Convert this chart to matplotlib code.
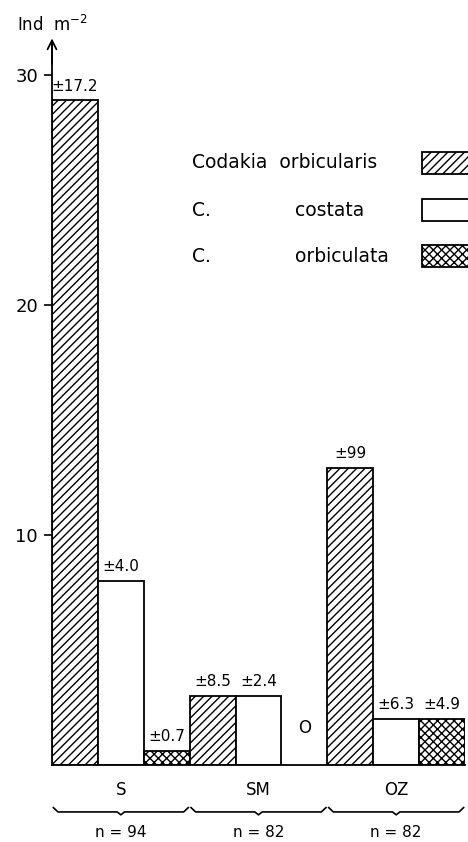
import numpy as np
import matplotlib
matplotlib.use('Agg')
from matplotlib import pyplot as plt
from matplotlib.patches import Rectangle

# data (Ind m-2)
groups = ['S', 'SM', 'OZ']
n_labels = ['n = 94', 'n = 82', 'n = 82']
species = ['Codakia  orbicularis', 'C.', 'C.']
species2 = ['', 'costata', 'orbiculata']
codakia = [28.9, 3.0, 12.9]
costata = [8.0, 3.0, 2.0]
orbiculata = [0.6, 0.0, 2.0]
err_codakia = ['±17.2', '±8.5', '±99']
err_costata = ['±4.0', '±2.4', '±6.3']
err_orbiculata = ['±0.7', 'O', '±4.9']

plt.rcParams['font.family'] = ['DejaVu Sans']
plt.rcParams['hatch.linewidth'] = 1.0

fig = plt.figure(figsize=(4.68, 8.42), dpi=100)
ax = fig.add_axes([52 / 468, 77 / 842, 413 / 468, 722 / 842])

series = [(codakia, err_codakia, '////'), (costata, err_costata, ''),
          (orbiculata, err_orbiculata, 'xxxx')]
for g in range(3):
    for s, (vals, errs, hatch) in enumerate(series):
        x = g * 3 + s
        v = vals[g]
        if v > 0:
            ax.bar(x, v, width=1, align='edge', facecolor='white',
                   edgecolor='black', linewidth=1.3, hatch=hatch)
            ax.text(x + 0.5, v + 0.3, errs[g], ha='center', va='bottom',
                    fontsize=11)
        else:
            ax.text(x + 0.5, 1.6, errs[g], ha='center', va='center',
                    fontsize=12)

ax.set_xlim(0, 9)
ax.set_ylim(0, 31.4)
ax.spines['top'].set_visible(False)
ax.spines['right'].set_visible(False)
ax.spines['left'].set_linewidth(1.3)
ax.spines['bottom'].set_linewidth(1.3)
ax.set_xticks([])
ax.set_yticks([10, 20, 30])
ax.tick_params(axis='y', direction='out', length=6, width=1.2, labelsize=13, pad=4)
ax.annotate('', xy=(0, 31.6), xytext=(0, 30.5),
            arrowprops=dict(arrowstyle='->', lw=1.3, color='black',
                            mutation_scale=16, shrinkA=0, shrinkB=0),
            annotation_clip=False)

fig.text(17 / 468, 1 - 25 / 842, 'Ind  m$^{-2}$', fontsize=12, va='center')

# group labels, braces and sample sizes
tr = ax.get_xaxis_transform()
for g in range(3):
    cx = g * 3 + 1.5
    ax.text(cx, -0.035, groups[g], transform=tr, ha='center', va='center',
            fontsize=12)
    ax.text(cx, -0.094, n_labels[g], transform=tr, ha='center', va='center',
            fontsize=11)
    x0, x1 = g * 3 + 0.03, g * 3 + 2.97
    yb = -0.065
    xs = [x0, x0 + 0.1, cx - 0.08, cx, cx + 0.08, x1 - 0.1, x1]
    ys = [yb + 0.006, yb, yb, yb - 0.004, yb, yb, yb + 0.006]
    ax.plot(xs, ys, color='black', lw=1.2, transform=tr, clip_on=False)

# legend
rows_y = [163, 210, 256]
hatches = ['////', '', 'xxxx']
for i in range(3):
    fy = 1 - rows_y[i] / 842
    fig.text(192 / 468, fy, species[i], fontsize=13.5, va='center')
    if species2[i]:
        fig.text(295 / 468, fy, species2[i], fontsize=13.5, va='center')
    fig.patches.append(Rectangle((422 / 468, fy - 11 / 842), 50 / 468, 22 / 842,
                                 transform=fig.transFigure, facecolor='white',
                                 edgecolor='black', linewidth=1.3,
                                 hatch=hatches[i], figure=fig))

fig.savefig('out.png', dpi=100)
